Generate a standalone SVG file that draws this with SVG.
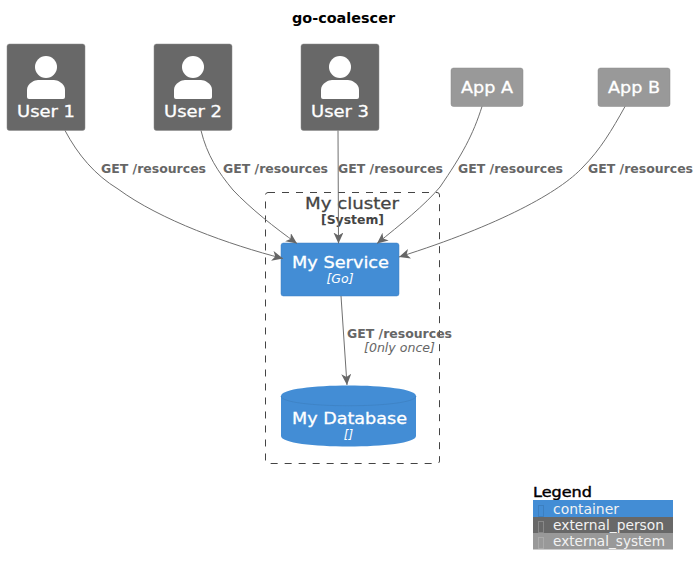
<svg xmlns="http://www.w3.org/2000/svg" width="700" height="572" viewBox="0 0 700 572">
<style>
text{font-family:"DejaVu Sans",sans-serif}
.n{fill:#fff;stroke:#fff;stroke-width:.3px;font-size:16px;text-anchor:middle}
.t{fill:#fff;font-size:12px;font-style:italic;text-anchor:middle}
.l{fill:#666;font-size:12px;font-weight:700}
.i{fill:#666;font-size:12px;font-style:italic}
.e{fill:none;stroke:#707070;stroke-width:1;marker-end:url(#a)}
.p{fill:#686868;stroke:#8a8a8a;stroke-width:.5}
.s{fill:#999;stroke:#8a8a8a;stroke-width:.5}
.u{fill:#fff}
.g{fill:#f2f2f2;font-size:13.5px}
</style>
<defs>
<marker id="a" markerUnits="userSpaceOnUse" markerWidth="13" markerHeight="11" refX="11" refY="5" orient="auto"><path d="M0,0L11,5L0,10L3,5Z" fill="#666"/></marker>
<g id="person"><circle class="u" cx="0" cy="23" r="11"/><path class="u" d="M-19,53V46C-19,39-11,36-8,36H8C11,36 19,39 19,46V53Q19,55 17,55H-17Q-19,55-19,53Z"/></g>
</defs>
<text x="292" y="23" font-size="14" font-weight="700" fill="#000" textLength="103" lengthAdjust="spacingAndGlyphs">go-coalescer</text>
<g id="cluster"><rect x="265.500" y="192.500" width="174" height="271" rx="2.500" fill="none" stroke="#444" stroke-dasharray="7 7"/><text x="305" y="209" font-size="16" stroke="#444" stroke-width=".3" fill="#444" textLength="94" lengthAdjust="spacingAndGlyphs">My cluster</text><text x="321" y="224" font-size="12" font-weight="700" fill="#444" textLength="63" lengthAdjust="spacingAndGlyphs">[System]</text></g>
<g id="user1"><rect class="p" x="7" y="44" width="78" height="86.500" rx="2.500"/><use href="#person" x="46" y="44"/><text class="n" x="46" y="117" textLength="58" lengthAdjust="spacingAndGlyphs">User 1</text></g>
<g id="user2"><rect class="p" x="154" y="44" width="78" height="86.500" rx="2.500"/><use href="#person" x="193" y="44"/><text class="n" x="193" y="117" textLength="58" lengthAdjust="spacingAndGlyphs">User 2</text></g>
<g id="user3"><rect class="p" x="301" y="44" width="78" height="86.500" rx="2.500"/><use href="#person" x="340" y="44"/><text class="n" x="340" y="117" textLength="58" lengthAdjust="spacingAndGlyphs">User 3</text></g>
<g id="appa"><rect class="s" x="451" y="68" width="72" height="38.500" rx="2.500"/><text class="n" x="487" y="93" textLength="52" lengthAdjust="spacingAndGlyphs">App A</text></g>
<g id="appb"><rect class="s" x="598" y="68" width="72" height="38.500" rx="2.500"/><text class="n" x="634" y="93" textLength="52" lengthAdjust="spacingAndGlyphs">App B</text></g>
<g id="service"><rect x="281" y="243" width="118" height="53" rx="2.500" fill="#438dd5" stroke="#3c7fc0" stroke-width=".5"/><text class="n" x="340.500" y="268" textLength="97" lengthAdjust="spacingAndGlyphs">My Service</text><text class="t" x="340" y="283" textLength="27" lengthAdjust="spacingAndGlyphs">[Go]</text></g>
<g id="database"><path d="M281,396C281,382 416,382 416,396V436C416,450 281,450 281,436Z" fill="#438dd5"/><path d="M281,396C281,409 416,409 416,396" fill="none" stroke="#3c7fc0" stroke-width=".7"/><text class="n" x="349.500" y="424" textLength="115" lengthAdjust="spacingAndGlyphs">My Database</text><text class="t" x="348.500" y="439">[]</text></g>
<g id="connectors">
<path class="e" d="M65,130.500C78,155 95,175 118,189C160,220 230,245 283,258.500"/>
<path class="e" d="M201,130.500C207,155 218,172 233,190C250,208 275,228 297,243.500"/>
<path class="e" d="M338,130.500L338.500,243.500"/>
<path class="e" d="M482,106.500C473,135 462,155 440,187C425,205 400,225 377,243.500"/>
<path class="e" d="M625,106.500C612,130 600,150 583,167C560,192 500,225 399,257"/>
<path class="e" d="M341,296L347,385"/>
</g>
<g id="labels">
<text class="l" x="101" y="173" textLength="105" lengthAdjust="spacingAndGlyphs">GET /resources</text>
<text class="l" x="223" y="173" textLength="105" lengthAdjust="spacingAndGlyphs">GET /resources</text>
<text class="l" x="338" y="173" textLength="105" lengthAdjust="spacingAndGlyphs">GET /resources</text>
<text class="l" x="458" y="173" textLength="105" lengthAdjust="spacingAndGlyphs">GET /resources</text>
<text class="l" x="588" y="173" textLength="105" lengthAdjust="spacingAndGlyphs">GET /resources</text>
<text class="l" x="347" y="338" textLength="105" lengthAdjust="spacingAndGlyphs">GET /resources</text>
<text class="i" x="364" y="352" textLength="71" lengthAdjust="spacingAndGlyphs">[0nly once]</text>
</g>
<g id="legend">
<text x="533" y="497" font-size="14" stroke="#000" stroke-width=".4" fill="#000" textLength="59" lengthAdjust="spacingAndGlyphs">Legend</text>
<rect x="533" y="500" width="140" height="17" fill="#438dd5"/>
<rect x="533" y="517" width="140" height="16" fill="#686868"/>
<rect x="533" y="533" width="140" height="16.500" fill="#999"/>
<text class="g" x="553" y="514" textLength="66" lengthAdjust="spacingAndGlyphs">container</text>
<text class="g" x="553" y="530" textLength="111" lengthAdjust="spacingAndGlyphs">external_person</text>
<text class="g" x="553" y="546" textLength="112" lengthAdjust="spacingAndGlyphs">external_system</text>
<rect x="538.500" y="505.500" width="5" height="11" fill="none" stroke="#3c7fc0"/>
<rect x="538.500" y="521.500" width="5" height="11" fill="none" stroke="#888"/>
<rect x="538.500" y="537.500" width="5" height="11" fill="none" stroke="#aaa"/>
</g>
</svg>
